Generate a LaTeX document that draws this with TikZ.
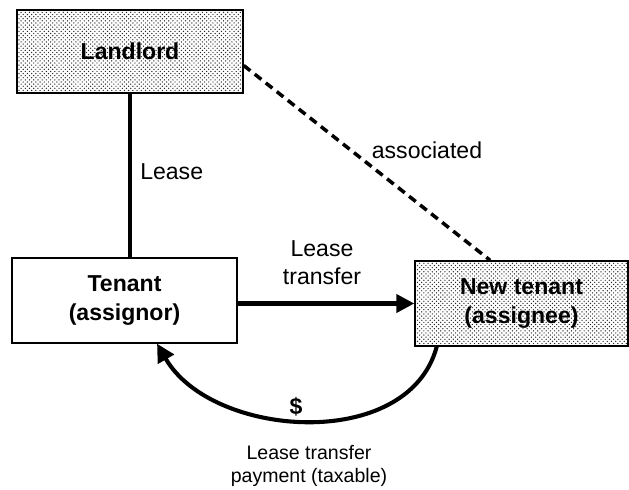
\documentclass[tikz,border=0pt]{standalone}
\usepackage{fontspec}
\setmainfont{Liberation Sans}
\usetikzlibrary{arrows.meta,patterns}

\begin{document}
\begin{tikzpicture}[
    box/.style={rectangle,draw,line width=1pt,inner sep=0pt,align=center,
      font=\fontsize{16.4}{20}\selectfont\bfseries},
    dotted box/.style={box,pattern=crosshatch dots,pattern color=black!85},
    lbl/.style={inner sep=0pt,align=center,font=\fontsize{16.4}{20}\selectfont},
    small lbl/.style={inner sep=0pt,align=center,font=\fontsize{13.9}{15.8}\selectfont},
    link/.style={line width=2.9pt},
    flow/.style={line width=2.9pt,-{Triangle[length=0.45cm,width=0.45cm]}}]
  \useasboundingbox (0,0) rectangle (15.725,-12.225);
  % parties
  \node[dotted box,minimum width=5.65cm,minimum height=2.075cm] (Landlord) at (3.25,-1.2875) {Landlord};
  \node[box,minimum width=5.625cm,minimum height=2.125cm] (Tenant) at (3.1125,-7.5125) {Tenant\\(assignor)};
  \node[dotted box,minimum width=5.325cm,minimum height=2.125cm] (NewTenant) at (13.0375,-7.5875) {New tenant\\(assignee)};
  % labels
  \node[lbl,anchor=west] (lease) at (3.5,-4.3) {Lease};
  \node[lbl] (assoc) at (10.675,-3.75) {associated};
  \node[lbl] (transfer) at (8.05,-6.5625) {Lease\\transfer};
  \node[lbl,font=\fontsize{16.4}{20}\selectfont\bfseries] (dollar) at (7.4,-10.175) {\$};
  \node[small lbl] (payment) at (7.725,-11.65) {Lease transfer\\payment (taxable)};
  % connectors
  \draw[link] (Landlord.south)--(Landlord.south |- Tenant.north);
  \draw[line width=2.5pt,dash pattern=on 6pt off 4pt] (Landlord.-7)--(NewTenant.126);
  \draw[flow] (Tenant.east |- NewTenant.west)--(NewTenant.west);
  \draw[flow] (NewTenant.-153) to[out=-105,in=-60] (Tenant.-53);
\end{tikzpicture}
\end{document}
